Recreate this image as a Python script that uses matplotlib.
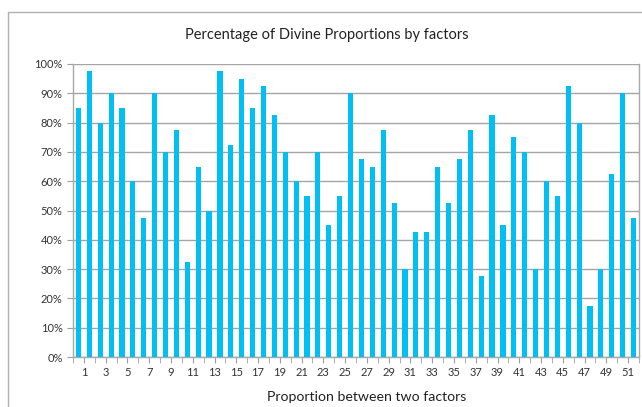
import numpy as np
import matplotlib.pyplot as plt
from matplotlib.patches import Rectangle

# porcentaje de proporciones divinas por cada par de factores
valores = [85, 97.5, 80, 90, 85, 60, 47.5, 90, 70, 77.5,
           32.5, 65, 50, 97.5, 72.5, 95, 85, 92.5, 82.5, 70,
           60, 55, 70, 45, 55, 90, 67.5, 65, 77.5, 52.5,
           30, 42.5, 42.5, 65, 52.5, 67.5, 77.5, 27.5, 82.5, 45,
           75, 70, 30, 60, 55, 92.5, 80, 17.5, 30, 62.5,
           90, 47.5]
etiquetas = [str(k) for k in range(1, 52, 2)]
yticks = list(range(0, 101, 10))

plt.rcParams['font.family'] = ['Lato', 'DejaVu Sans']

fig = plt.figure(figsize=(6.42, 4.07), dpi=100)
ax = fig.add_axes([73/642, 1-357/407, (639-73)/642, (357-64)/407])

n = len(valores)
x = np.arange(1, n+1) - 0.5
ax.bar(x, valores, width=0.47, color="#00BFF2", zorder=3)

ax.set_xlim(0, n)
ax.set_ylim(0, 100)
ax.set_yticks(yticks)
ax.set_yticklabels([f"{v}%" for v in yticks])
ax.set_xticks(range(1, 52, 2))
ax.set_xticklabels(etiquetas)
ax.set_xticks(range(0, n+1), minor=True)
ax.tick_params(axis='x', which='both', length=4, color="#A0A0A0", labelsize=8)
ax.tick_params(axis='x', which='major', labelcolor="#333333")
ax.tick_params(axis='y', length=4, color="#A0A0A0", labelsize=8, labelcolor="#333333")
ax.grid(axis='y', color="#A5A5A5", linewidth=1, zorder=0)

ax.spines['top'].set_visible(False)
for s in ['left', 'right', 'bottom']:
    ax.spines[s].set_color("#A8A8A8")
    ax.spines[s].set_linewidth(1)

fig.text(327/642, 1-35/407, "Percentage of Divine Proportions by factors",
         ha='center', va='center', fontsize=10.5, color="#222222")
fig.text(367/642, 1-397/407, "Proportion between two factors",
         ha='center', va='center', fontsize=10.2, color="#222222")

fig.patches.append(Rectangle((8/642, -0.1), 1.2, 1-12/407+0.1,
                             transform=fig.transFigure, fill=False,
                             edgecolor="#B0B0B0", linewidth=1))

plt.savefig("out.png")
